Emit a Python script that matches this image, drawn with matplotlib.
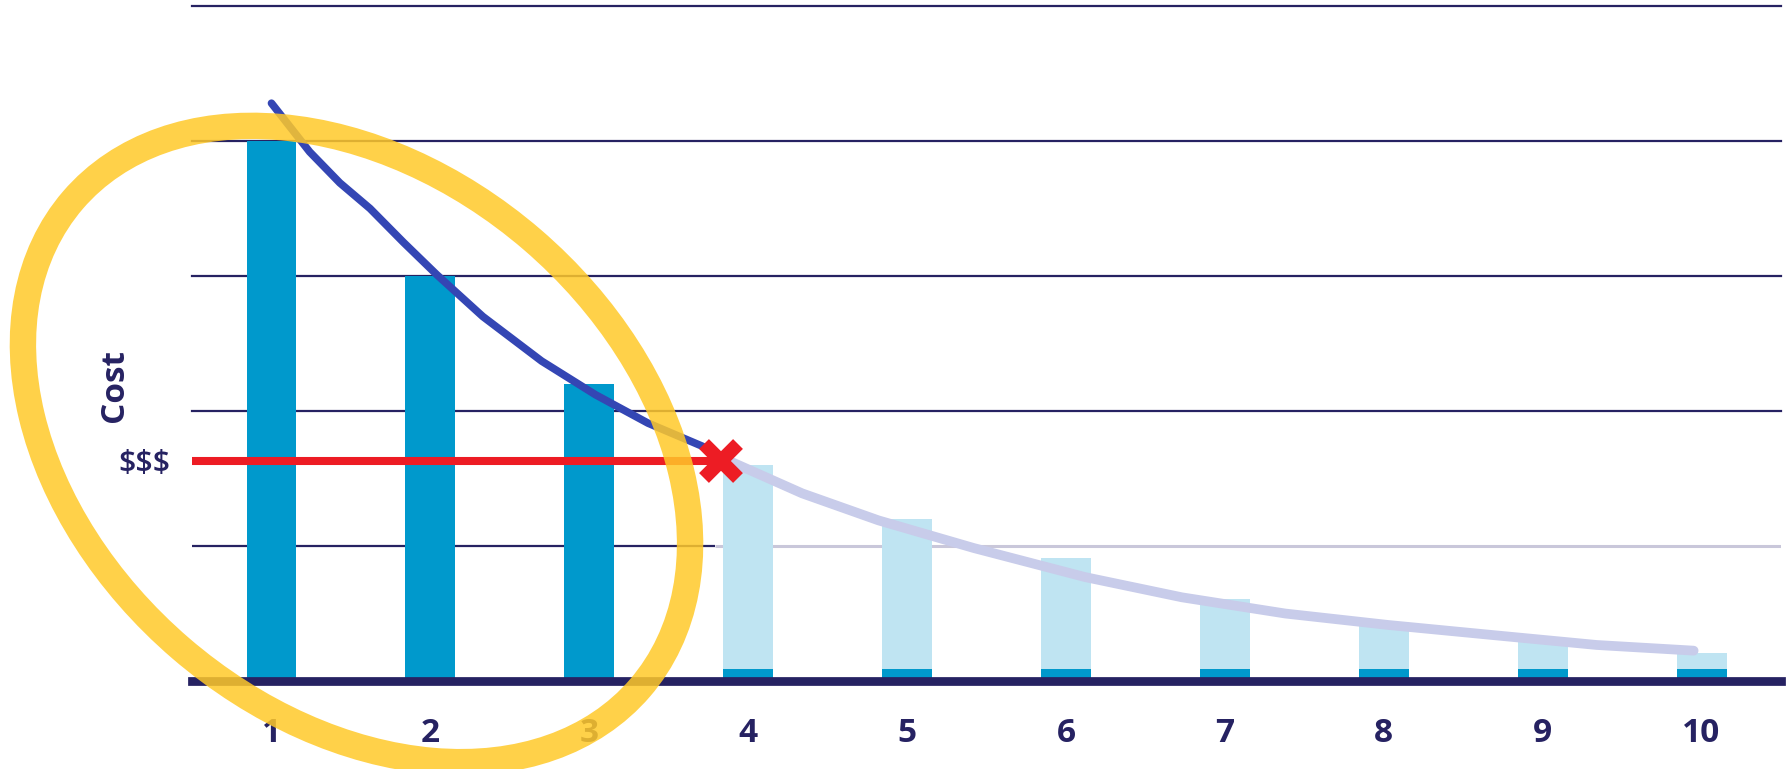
import matplotlib.pyplot as plt
from matplotlib.patches import Ellipse
from matplotlib.transforms import blended_transform_factory

# bar heights per option
options = [1, 2, 3, 4, 5, 6, 7, 8, 9, 10]
cost = [4.0, 3.0, 2.2, 1.6, 1.2, 0.91, 0.61, 0.42, 0.29, 0.21]
n_dark = 3            # first options drawn solid, the rest faded
base_height = 0.09    # dark strip at the foot of the faded bars
tick_labels = [str(o) for o in options]

# trend curve, split at the budget point
curve_x_dark = [1.0, 1.24, 1.43, 1.62, 1.83, 2.04, 2.33, 2.70, 3.04, 3.37, 3.71, 3.83]
curve_y_dark = [4.28, 3.92, 3.69, 3.50, 3.25, 3.01, 2.70, 2.37, 2.12, 1.91, 1.74, 1.66]
curve_x_light = [3.83, 3.90, 4.34, 4.82, 5.42, 6.12, 6.73, 7.38, 8.03, 8.69, 9.34, 9.95]
curve_y_light = [1.66, 1.62, 1.39, 1.19, 0.985, 0.77, 0.62, 0.50, 0.415, 0.34, 0.267, 0.225]

budget = 1.63
budget_x = 3.83
grid_levels = [2, 3, 4, 5]

navy = '#262262'
bar_blue = '#0099CC'
bar_light = '#BFE4F2'
line_blue = '#3446B4'
line_light = '#C8CCEA'
red = '#ED1C24'
yellow = '#FFC929'

plt.rcParams['font.family'] = ['Open Sans', 'DejaVu Sans']

fig = plt.figure(figsize=(17.88, 7.69), dpi=100)
ax = fig.add_axes([0.1074, 0.1144, 0.8887, 0.8778])
ax.set_xlim(0.5, 10.5)
ax.set_ylim(0, 5)

for lvl in grid_levels:
    ax.axhline(lvl, color=navy, lw=1.6, zorder=1, clip_on=False)
ax.hlines(1, 0.5, budget_x - 0.04, color=navy, lw=1.6, zorder=1)
ax.hlines(1, budget_x - 0.04, 10.5, color='#C9C7DA', lw=2.2, zorder=1)

bw = 0.314
ax.bar(options[:n_dark], cost[:n_dark], width=bw, color=bar_blue, zorder=2)
ax.bar(options[n_dark:], cost[n_dark:], width=bw, color=bar_light, zorder=2)
ax.bar(options[n_dark:], [base_height] * len(options[n_dark:]), width=bw,
       color=bar_blue, zorder=2)

ax.axhline(0, color=navy, lw=6.3, zorder=3, clip_on=False)

ax.plot(curve_x_light, curve_y_light, color=line_light, lw=7,
        solid_capstyle='round', solid_joinstyle='round', zorder=4)
ax.plot(curve_x_dark, curve_y_dark, color=line_blue, lw=5.5,
        solid_capstyle='round', solid_joinstyle='round', zorder=5)

ax.hlines(budget, 0.5, budget_x, color=red, lw=5.8, zorder=5)
ax.plot([budget_x], [budget], marker='x', markersize=25, mew=10,
        color=red, zorder=6)

ax.set_xticks(options)
ax.set_xticklabels(tick_labels, fontsize=24, fontweight='bold', color=navy)
ax.tick_params(axis='x', length=0, pad=26)
ax.set_yticks([])
for s in ax.spines.values():
    s.set_visible(False)

tr = blended_transform_factory(ax.transAxes, ax.transData)
ax.text(-0.049, 2.19, 'Cost', transform=tr, rotation=90, fontsize=24,
        fontweight='bold', color=navy, ha='center', va='center')
ax.text(-0.0135, budget - 0.02, '$$$', transform=tr, fontsize=22,
        fontweight='semibold', color=navy, ha='right', va='center')

# highlight ring over the first options, drawn on a pixel-space overlay
ov = fig.add_axes([0, 0, 1, 1], zorder=10)
ov.set_xlim(0, 1788)
ov.set_ylim(769, 0)
ov.axis('off')
ov.patch.set_alpha(0)
ov.add_patch(Ellipse((356.5, 444), 748, 539, angle=40.7, fill=False,
                     ec=yellow, lw=19, alpha=0.85))

plt.savefig('out.png', dpi=100)
